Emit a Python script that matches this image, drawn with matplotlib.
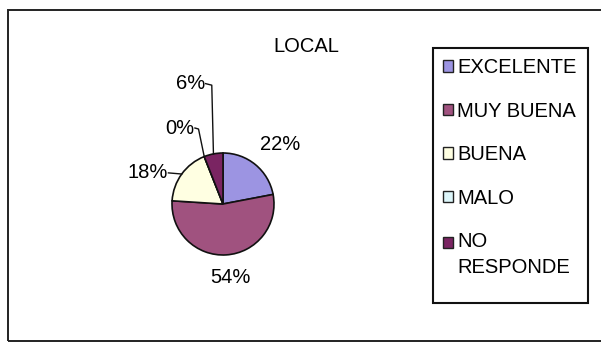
import numpy as np
import matplotlib
matplotlib.use("Agg")
import matplotlib.pyplot as plt
from matplotlib.patches import Rectangle, Patch
from matplotlib.legend_handler import HandlerPatch

plt.rcParams['font.family'] = ['Liberation Sans', 'DejaVu Sans']

categories = ["EXCELENTE", "MUY BUENA", "BUENA", "MALO", "NO\nRESPONDE"]
values = [22, 54, 18, 0, 6]
labels = ["22%", "54%", "18%", "0%", "6%"]
colors = ["#9C94E2", "#A0527F", "#FFFFE2", "#DDF6FA", "#7A2462"]
title = "LOCAL"

W, H = 601, 343
fig = plt.figure(figsize=(W / 100, H / 100), dpi=100)
fig.patch.set_facecolor("white")

# outer frame
fig.add_artist(Rectangle((8 / W, 2 / H), 1 - 8 / W + 0.01, (H - 12) / H,
                         transform=fig.transFigure, fill=False, ec="#222222", lw=1.4))

cx, cy, r = 223, 204, 51
ax = fig.add_axes([(cx - r) / W, (H - cy - r) / H, 2 * r / W, 2 * r / H])
wedges, _ = ax.pie(values, colors=colors, startangle=90, counterclock=False,
                   radius=1, wedgeprops=dict(edgecolor="#111111", linewidth=1.2))
ax.set_xlim(-1, 1)
ax.set_ylim(-1, 1)
ax.set_aspect("auto")
ax.axis("off")

fs = 14.5
mids = [np.deg2rad((w.theta1 + w.theta2) / 2) for w in wedges]

def edge(i):
    return np.cos(mids[i]), np.sin(mids[i])

ax.text(1.12, 1.16, labels[0], ha="center", va="center", fontsize=fs, clip_on=False)
ax.text(0.14, -1.45, labels[1], ha="center", va="center", fontsize=fs, clip_on=False)

ex, ey = edge(2)
ax.text(-1.08, 0.61, labels[2], ha="right", va="center", fontsize=fs, clip_on=False)
ax.plot([-1.07, ex], [0.61, ey], color="#111111", lw=1, clip_on=False)

ex, ey = np.cos(np.deg2rad(wedges[3].theta1)), np.sin(np.deg2rad(wedges[3].theta1))
ax.text(-0.56, 1.49, labels[3], ha="right", va="center", fontsize=fs, clip_on=False)
ax.plot([-0.55, -0.48, ex], [1.49, 1.47, ey], color="#111111", lw=1, clip_on=False)

ex, ey = edge(4)
ax.text(-0.35, 2.36, labels[4], ha="right", va="center", fontsize=fs, clip_on=False)
ax.plot([-0.34, -0.22, ex], [2.36, 2.33, ey], color="#111111", lw=1, clip_on=False)

fig.text(306 / W, 1 - 47 / H, title, ha="center", va="center", fontsize=fs)

# legend box
fig.add_artist(Rectangle((433 / W, (H - 303) / H), 155 / W, 255 / H,
                         transform=fig.transFigure, fill=False, ec="#111111", lw=1.5))


def top_square(legend, orig_handle, xdescent, ydescent, width, height, fontsize):
    return Rectangle((-xdescent, -ydescent), width, height)


class TopHandler(HandlerPatch):
    def __init__(self, shift=0.0, **kw):
        super().__init__(**kw)
        self.shift = shift

    def create_artists(self, legend, orig_handle, xdescent, ydescent, width,
                       height, fontsize, trans):
        arts = super().create_artists(legend, orig_handle, xdescent, ydescent,
                                      width, height, fontsize, trans)
        for a in arts:
            a.set_y(a.get_y() + self.shift * fontsize)
        return arts


handles = [Patch(facecolor=c, edgecolor="#222222", linewidth=1) for c in colors]
hmap = {handles[-1]: TopHandler(shift=0.62)}
leg = fig.legend(handles, categories, loc="upper left",
                 bbox_to_anchor=(437 / W, 1 - 52 / H), borderaxespad=0,
                 fontsize=fs, frameon=False, handler_map=hmap,
                 handlelength=0.5, handleheight=0.5, handletextpad=0.2,
                 labelspacing=1.22, borderpad=0.3)
leg.get_texts()[-1].set_linespacing(1.45)

fig.savefig("out.png", dpi=100, facecolor="white")
